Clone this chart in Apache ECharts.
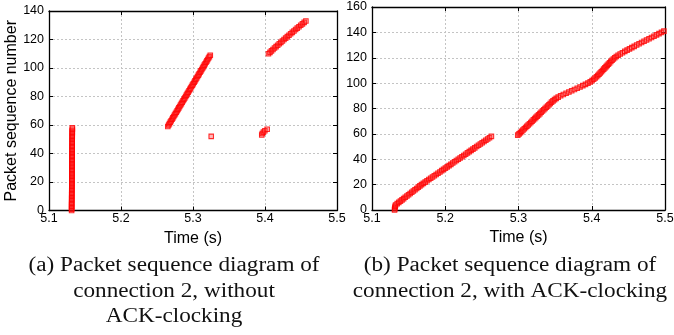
<!DOCTYPE html>
<html>
<head>
<meta charset="utf-8">
<script src="https://cdn.jsdelivr.net/npm/echarts@6/dist/echarts.min.js"></script>
<style>
  html, body { margin: 0; padding: 0; background: #fff; }
  #chart { width: 674px; height: 335px; }
</style>
</head>
<body>
<div id="chart"></div>
<script>
// x ticks, y ticks
const timeTicks = [5.1, 5.2, 5.3, 5.4, 5.5];
const seqTicksA = [0, 20, 40, 60, 80, 100, 120, 140];
const seqTicksB = [0, 20, 40, 60, 80, 100, 120, 140, 160];

// (a) without ACK-clocking : [time (s), packet seq]
const burstA = [
  [5.1314,0],[5.1314,1],[5.1315,2],[5.1315,3],[5.1314,4],[5.1315,5],[5.1315,6],[5.1316,7],[5.1315,8],[5.1316,9],
  [5.1316,10],[5.1316,11],[5.1316,12],[5.1317,13],[5.1316,14],[5.1317,15],[5.1317,16],[5.1317,17],[5.1317,18],[5.1318,19],
  [5.1317,20],[5.1318,21],[5.1318,22],[5.1318,23],[5.1318,24],[5.1318,25],[5.1319,26],[5.1318,27],[5.1319,28],[5.1319,29],
  [5.1319,30],[5.1319,31],[5.1320,32],[5.1319,33],[5.1320,34],[5.1320,35],[5.1320,36],[5.1320,37],[5.1320,38],[5.1321,39],
  [5.1320,40],[5.1321,41],[5.1321,42],[5.1321,43],[5.1321,44],[5.1322,45],[5.1321,46],[5.1322,47],[5.1322,48],[5.1322,49],
  [5.1322,50],[5.1322,51],[5.1323,52],[5.1322,53],[5.1323,54],[5.1323,55],[5.1323,56],[5.1324,57],[5.1324,58]
];
const rampA = [
  [5.2650,59],[5.2662,60],[5.2673,61],[5.2685,62],[5.2697,63],[5.2709,64],[5.2720,65],[5.2732,66],[5.2744,67],[5.2756,68],
  [5.2768,69],[5.2780,70],[5.2791,71],[5.2803,72],[5.2815,73],[5.2827,74],[5.2839,75],[5.2850,76],[5.2862,77],[5.2874,78],
  [5.2886,79],[5.2898,80],[5.2909,81],[5.2921,82],[5.2933,83],[5.2945,84],[5.2957,85],[5.2968,86],[5.2980,87],[5.2992,88],
  [5.3004,89],[5.3016,90],[5.3027,91],[5.3039,92],[5.3051,93],[5.3063,94],[5.3075,95],[5.3086,96],[5.3098,97],[5.3110,98],
  [5.3122,99],[5.3134,100],[5.3145,101],[5.3157,102],[5.3169,103],[5.3181,104],[5.3193,105],[5.3204,106],[5.3216,107],[5.3228,108],
  [5.3240,109]
];
const lostA = [[5.3253,52]];
const retxA = [[5.3955,53],[5.3962,54],[5.3978,55],[5.3998,56],[5.4030,57]];
const tailA = [
  [5.4048,110],[5.4069,111],[5.4090,112],[5.4111,113],[5.4132,114],[5.4154,115],[5.4176,116],[5.4198,117],[5.4220,118],[5.4242,119],
  [5.4264,120],[5.4287,121],[5.4310,122],[5.4333,123],[5.4356,124],[5.4379,125],[5.4402,126],[5.4425,127],[5.4448,128],[5.4472,129],
  [5.4496,130],[5.4520,131],[5.4544,132],[5.4568,133]
];

// (b) with ACK-clocking
const firstB = [
  [5.1308,0],[5.1310,1],[5.1313,2],[5.1316,3],
  [5.1322,4],[5.1344,5],[5.1366,6],[5.1388,7],[5.1410,8],[5.1432,9],[5.1454,10],[5.1477,11],[5.1499,12],[5.1521,13],
  [5.1543,14],[5.1565,15],[5.1587,16],[5.1610,17],[5.1632,18],[5.1654,19],[5.1676,20],[5.1701,21],[5.1726,22],[5.1751,23],
  [5.1776,24],[5.1801,25],[5.1826,26],[5.1851,27],[5.1876,28],[5.1901,29],[5.1927,30],[5.1952,31],[5.1977,32],[5.2002,33],
  [5.2027,34],[5.2052,35],[5.2077,36],[5.2102,37],[5.2127,38],[5.2152,39],[5.2178,40],[5.2203,41],[5.2228,42],[5.2253,43],
  [5.2278,44],[5.2303,45],[5.2328,46],[5.2353,47],[5.2378,48],[5.2403,49],[5.2429,50],[5.2454,51],[5.2479,52],[5.2504,53],
  [5.2529,54],[5.2554,55],[5.2579,56],[5.2604,57],[5.2630,58]
];
const secondB = [
  [5.2990,59],[5.3008,60],[5.3026,61],[5.3043,62],[5.3061,63],[5.3079,64],[5.3097,65],[5.3114,66],[5.3132,67],[5.3150,68],
  [5.3168,69],[5.3185,70],[5.3203,71],[5.3221,72],[5.3238,73],[5.3256,74],[5.3274,75],[5.3292,76],[5.3309,77],[5.3327,78],
  [5.3345,79],[5.3362,80],[5.3380,81],[5.3398,82],[5.3416,83],[5.3433,84],[5.3451,85],[5.3471,86],[5.3492,87],[5.3515,88],
  [5.3542,89],[5.3575,90],[5.3612,91],[5.3650,92],[5.3688,93],[5.3726,94],[5.3764,95],[5.3802,96],[5.3840,97],[5.3878,98],
  [5.3914,99],[5.3948,100],[5.3979,101],[5.4004,102],[5.4026,103],[5.4046,104],[5.4065,105],[5.4082,106],[5.4099,107],[5.4115,108],
  [5.4131,109],[5.4147,110],[5.4163,111],[5.4179,112],[5.4195,113],[5.4211,114],[5.4227,115],[5.4243,116],[5.4260,117],[5.4277,118],
  [5.4295,119],[5.4314,120],[5.4335,121],[5.4360,122],[5.4388,123],[5.4419,124],[5.4451,125],[5.4483,126],[5.4515,127],[5.4547,128],
  [5.4580,129],[5.4613,130],[5.4646,131],[5.4680,132],[5.4714,133],[5.4748,134],[5.4782,135],[5.4816,136],[5.4850,137],[5.4884,138],
  [5.4918,139],[5.4952,140],[5.4985,141]
];

const captionA = ['(a) Packet sequence diagram of', 'connection 2, without', 'ACK-clocking'];
const captionB = ['(b) Packet sequence diagram of', 'connection 2, with ACK-clocking'];

const sans = '"Liberation Sans", Arial, sans-serif';
const gridLine = { show: true, lineStyle: { color: '#c4c4c4', type: [2, 2], width: 1 } };
const frame = { show: true, onZero: false, lineStyle: { color: '#000', width: 1.3 } };
const tick = { show: true, inside: true, length: 4, lineStyle: { color: '#000', width: 1 } };

function xAxes(gi) {
  return [
    {
      type: 'value', gridIndex: gi, position: 'bottom',
      min: timeTicks[0], max: timeTicks[timeTicks.length - 1], interval: 0.1,
      axisLine: frame, axisTick: tick, splitLine: gridLine,
      axisLabel: { color: '#000', fontSize: 12.5, fontFamily: sans, margin: 2, formatter: v => v.toFixed(1) },
      name: 'Time (s)', nameLocation: 'middle', nameGap: 18,
      nameTextStyle: { color: '#000', fontSize: 16, fontFamily: sans }
    },
    {
      type: 'value', gridIndex: gi, position: 'top',
      min: timeTicks[0], max: timeTicks[timeTicks.length - 1], interval: 0.1,
      axisLine: frame, axisTick: tick, splitLine: { show: false }, axisLabel: { show: false }
    }
  ];
}

function yAxes(gi, ticks, withName) {
  const top = ticks[ticks.length - 1];
  const left = {
    type: 'value', gridIndex: gi, position: 'left',
    min: 0, max: top, interval: 20,
    axisLine: frame, axisTick: tick, splitLine: gridLine,
    axisLabel: { color: '#000', fontSize: 12.5, fontFamily: sans, margin: 5 }
  };
  if (withName) {
    left.name = 'Packet sequence number';
    left.nameLocation = 'middle';
    left.nameGap = 27;
    left.nameTextStyle = { color: '#000', fontSize: 16, fontFamily: sans };
  }
  return [left, {
    type: 'value', gridIndex: gi, position: 'right',
    min: 0, max: top, interval: 20,
    axisLine: frame, axisTick: tick, splitLine: { show: false }, axisLabel: { show: false }
  }];
}

function dots(data, gi) {
  return {
    type: 'scatter', data: data,
    xAxisIndex: gi * 2, yAxisIndex: gi * 2,
    symbol: 'rect', symbolSize: 4.5,
    itemStyle: { color: 'rgba(255,60,60,0.45)', borderColor: '#ff0000', borderWidth: 1.1 },
    silent: true
  };
}

function captionText(lines, cx, y0) {
  return lines.map((t, i) => ({
    type: 'text', x: cx, y: y0 + i * 25.4, scaleX: 1.16,
    style: {
      text: t, fill: '#111', fontSize: 20, fontFamily: '"Liberation Serif", "Times New Roman", serif',
      align: 'center', verticalAlign: 'middle'
    }
  }));
}

const chart = echarts.init(document.getElementById('chart'), null, { renderer: 'canvas' });
chart.setOption({
  animation: false,
  backgroundColor: '#fff',
  grid: [
    { left: 49, top: 11, width: 288, height: 199.5, containLabel: false, outerBoundsMode: 'none' },
    { left: 372, top: 7, width: 293, height: 203, containLabel: false, outerBoundsMode: 'none' }
  ],
  xAxis: [...xAxes(0), ...xAxes(1)],
  yAxis: [...yAxes(0, seqTicksA, true), ...yAxes(1, seqTicksB, false)],
  series: [
    dots(burstA, 0), dots(rampA, 0), dots(lostA, 0), dots(retxA, 0), dots(tailA, 0),
    dots(firstB, 1), dots(secondB, 1)
  ],
  graphic: [
    ...captionText(captionA, 174, 266),
    ...captionText(captionB, 510, 266)
  ]
});
</script>
</body>
</html>
